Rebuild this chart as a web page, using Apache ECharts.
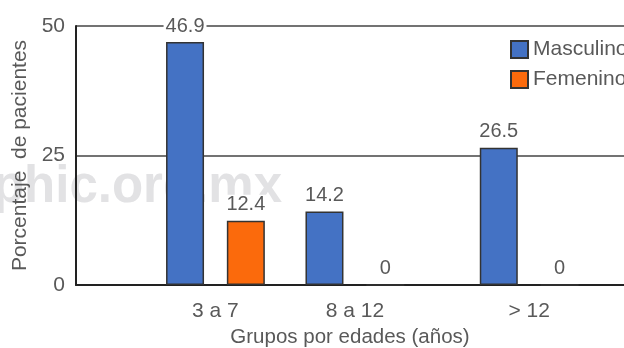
<!DOCTYPE html>
<html>
<head>
<meta charset="utf-8">
<script src="https://cdn.jsdelivr.net/npm/echarts@6/dist/echarts.min.js"></script>
<style>
  html, body { margin: 0; padding: 0; background: #fff; }
  #chart { width: 624px; height: 348px; }
</style>
</head>
<body>
<div id="chart"></div>
<script>
// Age groups and where each group sits along the horizontal axis
const ageGroups = ['3 a 7', '8 a 12', '> 12'];
const groupSlot = [1, 2, 3.25];

// Share of patients (%) per group
const masculino = [46.9, 14.2, 26.5];
const femenino = [12.4, 0, 0];

// Value-axis ticks
const yTicks = [0, 25, 50];

const FONT = '"Liberation Sans", Arial, Helvetica, sans-serif';
const TEXT = '#595959';

const pairs = (vals) => vals.map((v, i) => [groupSlot[i], v]);

const barLabel = {
  show: true,
  position: 'top',
  distance: 6,
  color: TEXT,
  fontFamily: FONT,
  fontSize: 20,
  backgroundColor: '#fff',
  padding: [0, 2],
  formatter: (p) => String(p.value[1])
};

const chart = echarts.init(document.getElementById('chart'), null, { renderer: 'canvas' });

chart.setOption({
  animation: false,
  backgroundColor: '#fff',
  textStyle: { fontFamily: FONT },
  graphic: [{
    type: 'text',
    z: -10,
    silent: true,
    x: 282,
    y: 188,
    style: {
      text: 'medigraphic.org.mx',
      font: 'bold 51px ' + FONT,
      fill: '#e2e2e4',
      textAlign: 'right',
      textVerticalAlign: 'middle'
    }
  }],
  grid: { left: 76, right: 0, top: 26, bottom: 63, containLabel: false, outerBoundsMode: 'none' },
  legend: {
    orient: 'vertical',
    left: 510,
    top: 39,
    padding: 0,
    itemWidth: 17,
    itemHeight: 17,
    itemGap: 9,
    icon: 'rect',
    textStyle: { color: TEXT, fontSize: 21, fontFamily: FONT },
    data: ['Masculino', 'Femenino']
  },
  xAxis: {
    type: 'value',
    min: 0,
    max: 3.93,
    name: 'Grupos por edades (años)',
    nameLocation: 'middle',
    nameGap: 38,
    nameTextStyle: { color: TEXT, fontSize: 20.5, fontFamily: FONT },
    axisLine: { show: true, onZero: false, lineStyle: { color: '#222', width: 2 } },
    axisTick: { show: false },
    splitLine: { show: false },
    axisLabel: {
      customValues: groupSlot,
      margin: 16,
      color: TEXT,
      fontSize: 21,
      fontFamily: FONT,
      formatter: (v) => {
        const i = groupSlot.indexOf(v);
        return i >= 0 ? ageGroups[i] : '';
      }
    }
  },
  yAxis: {
    type: 'value',
    min: yTicks[0],
    max: yTicks[yTicks.length - 1],
    interval: yTicks[1] - yTicks[0],
    name: 'Porcentaje  de pacientes',
    nameLocation: 'middle',
    nameGap: 45,
    nameTextStyle: { color: TEXT, fontSize: 21, fontFamily: FONT },
    axisLine: { show: true, lineStyle: { color: '#222', width: 2 } },
    axisTick: { show: false },
    splitLine: { show: true, lineStyle: { color: '#444', width: 1.5 } },
    axisLabel: { margin: 11, color: TEXT, fontSize: 21, fontFamily: FONT }
  },
  series: [
    {
      name: 'Masculino',
      type: 'bar',
      barWidth: 38,
      barGap: '60%',
      data: pairs(masculino),
      itemStyle: { color: '#4472c4', borderColor: '#333', borderWidth: 1.5 },
      label: barLabel
    },
    {
      name: 'Femenino',
      type: 'bar',
      barWidth: 38,
      barGap: '60%',
      data: pairs(femenino),
      itemStyle: { color: '#fb6a0c', borderColor: '#333', borderWidth: 1.5 },
      label: barLabel
    }
  ]
});
</script>
</body>
</html>
